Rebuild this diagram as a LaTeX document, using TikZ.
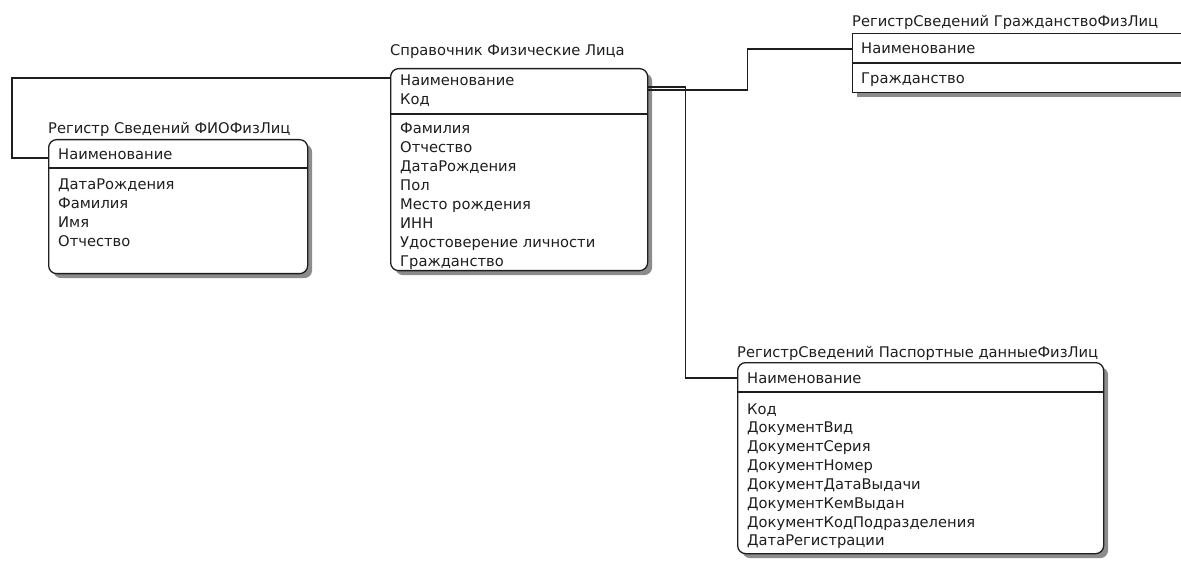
\documentclass[tikz,border=0pt]{standalone}
\usepackage{fontspec}
\setmainfont{DejaVu Sans}
\usetikzlibrary{shadows}
\definecolor{ink}{HTML}{1E1E1E}
\definecolor{shade}{HTML}{8C8C8C}
\tikzset{
  entity/.style={draw=ink, line width=1.3pt, rounded corners=8pt, fill=white,
    drop shadow={shadow xshift=4.5pt, shadow yshift=-4.5pt, fill=shade, opacity=1},
    inner sep=0pt, anchor=north west},
  squareentity/.style={entity, rounded corners=0pt},
  divider/.style={draw=ink, line width=1.2pt},
  link/.style={draw=ink, line width=1.2pt},
  label/.style={inner sep=0pt, anchor=base west, text=ink,
    font=\fontsize{14.7}{17}\selectfont},
  title/.style={label},
  field/.style={label},
}
\begin{document}
\begin{tikzpicture}[x=1pt, y=-1pt]
  \useasboundingbox (0,0) rectangle (1181,564);
  \clip (0,0) rectangle (1181,564);

  % entity frames
  \node[entity, minimum width=259pt, minimum height=134pt] (fio) at (48,139) {};
  \node[entity, minimum width=257pt, minimum height=202pt] (spr) at (390,68) {};
  \node[squareentity, minimum width=345pt, minimum height=59pt] (grz) at (852,33) {};
  \node[entity, minimum width=366pt, minimum height=191pt] (pas) at (737,362) {};

  % key / attribute dividers
  \draw[divider] ([yshift=-29pt]fio.north west) -- ([yshift=-29pt]fio.north east);
  \draw[divider] ([yshift=-46pt]spr.north west) -- ([yshift=-46pt]spr.north east);
  \draw[divider] ([yshift=-30pt]grz.north west) -- ([yshift=-30pt]grz.north east);
  \draw[divider] ([yshift=-30pt]pas.north west) -- ([yshift=-30pt]pas.north east);

  % titles
  \node[title] (fio-t) at (48,134) {Регистр Сведений ФИОФизЛиц};
  \node[title] (spr-t) at (390,56) {Справочник Физические Лица};
  \node[title] (grz-t) at (852,27) {РегистрСведений ГражданствоФизЛиц};
  \node[title] (pas-t) at (737,357) {РегистрСведений Паспортные данныеФизЛиц};

  % Регистр Сведений ФИОФизЛиц
  \node[field] (fio-k1) at (58,160) {Наименование};
  \foreach \t [count=\i] in {ДатаРождения, Фамилия, Имя, Отчество}
    \node[field] (fio-a\i) at (58,{190+18.8*(\i-1)}) {\t};

  % Справочник Физические Лица
  \node[field] (spr-k1) at (400,86) {Наименование};
  \node[field] (spr-k2) at (400,105) {Код};
  \foreach \t [count=\i] in {Фамилия, Отчество, ДатаРождения, Пол,
      Место рождения, ИНН, Удостоверение личности, Гражданство}
    \node[field] (spr-a\i) at (400,{134+18.9*(\i-1)}) {\t};

  % РегистрСведений ГражданствоФизЛиц
  \node[field] (grz-k1) at (861,54) {Наименование};
  \node[field] (grz-a1) at (861,84) {Гражданство};

  % РегистрСведений Паспортные данныеФизЛиц
  \node[field] (pas-k1) at (747,383) {Наименование};
  \foreach \t [count=\i] in {Код, ДокументВид, ДокументСерия, ДокументНомер,
      ДокументДатаВыдачи, ДокументКемВыдан, ДокументКодПодразделения,
      ДатаРегистрации}
    \node[field] (pas-a\i) at (747,{414+18.85*(\i-1)}) {\t};

  % relations
  \draw[link] ([yshift=-19pt]fio.north west) -- ++(-36,0)
    |- ([yshift=-10pt]spr.north west);
  \draw[link] ([yshift=-19pt]spr.north east) -- ++(37,0)
    |- ([yshift=-16pt]pas.north west);
  \draw[link] ([yshift=-22pt]spr.north east) -- ++(99,0)
    |- ([yshift=-16pt]grz.north west);
\end{tikzpicture}
\end{document}
